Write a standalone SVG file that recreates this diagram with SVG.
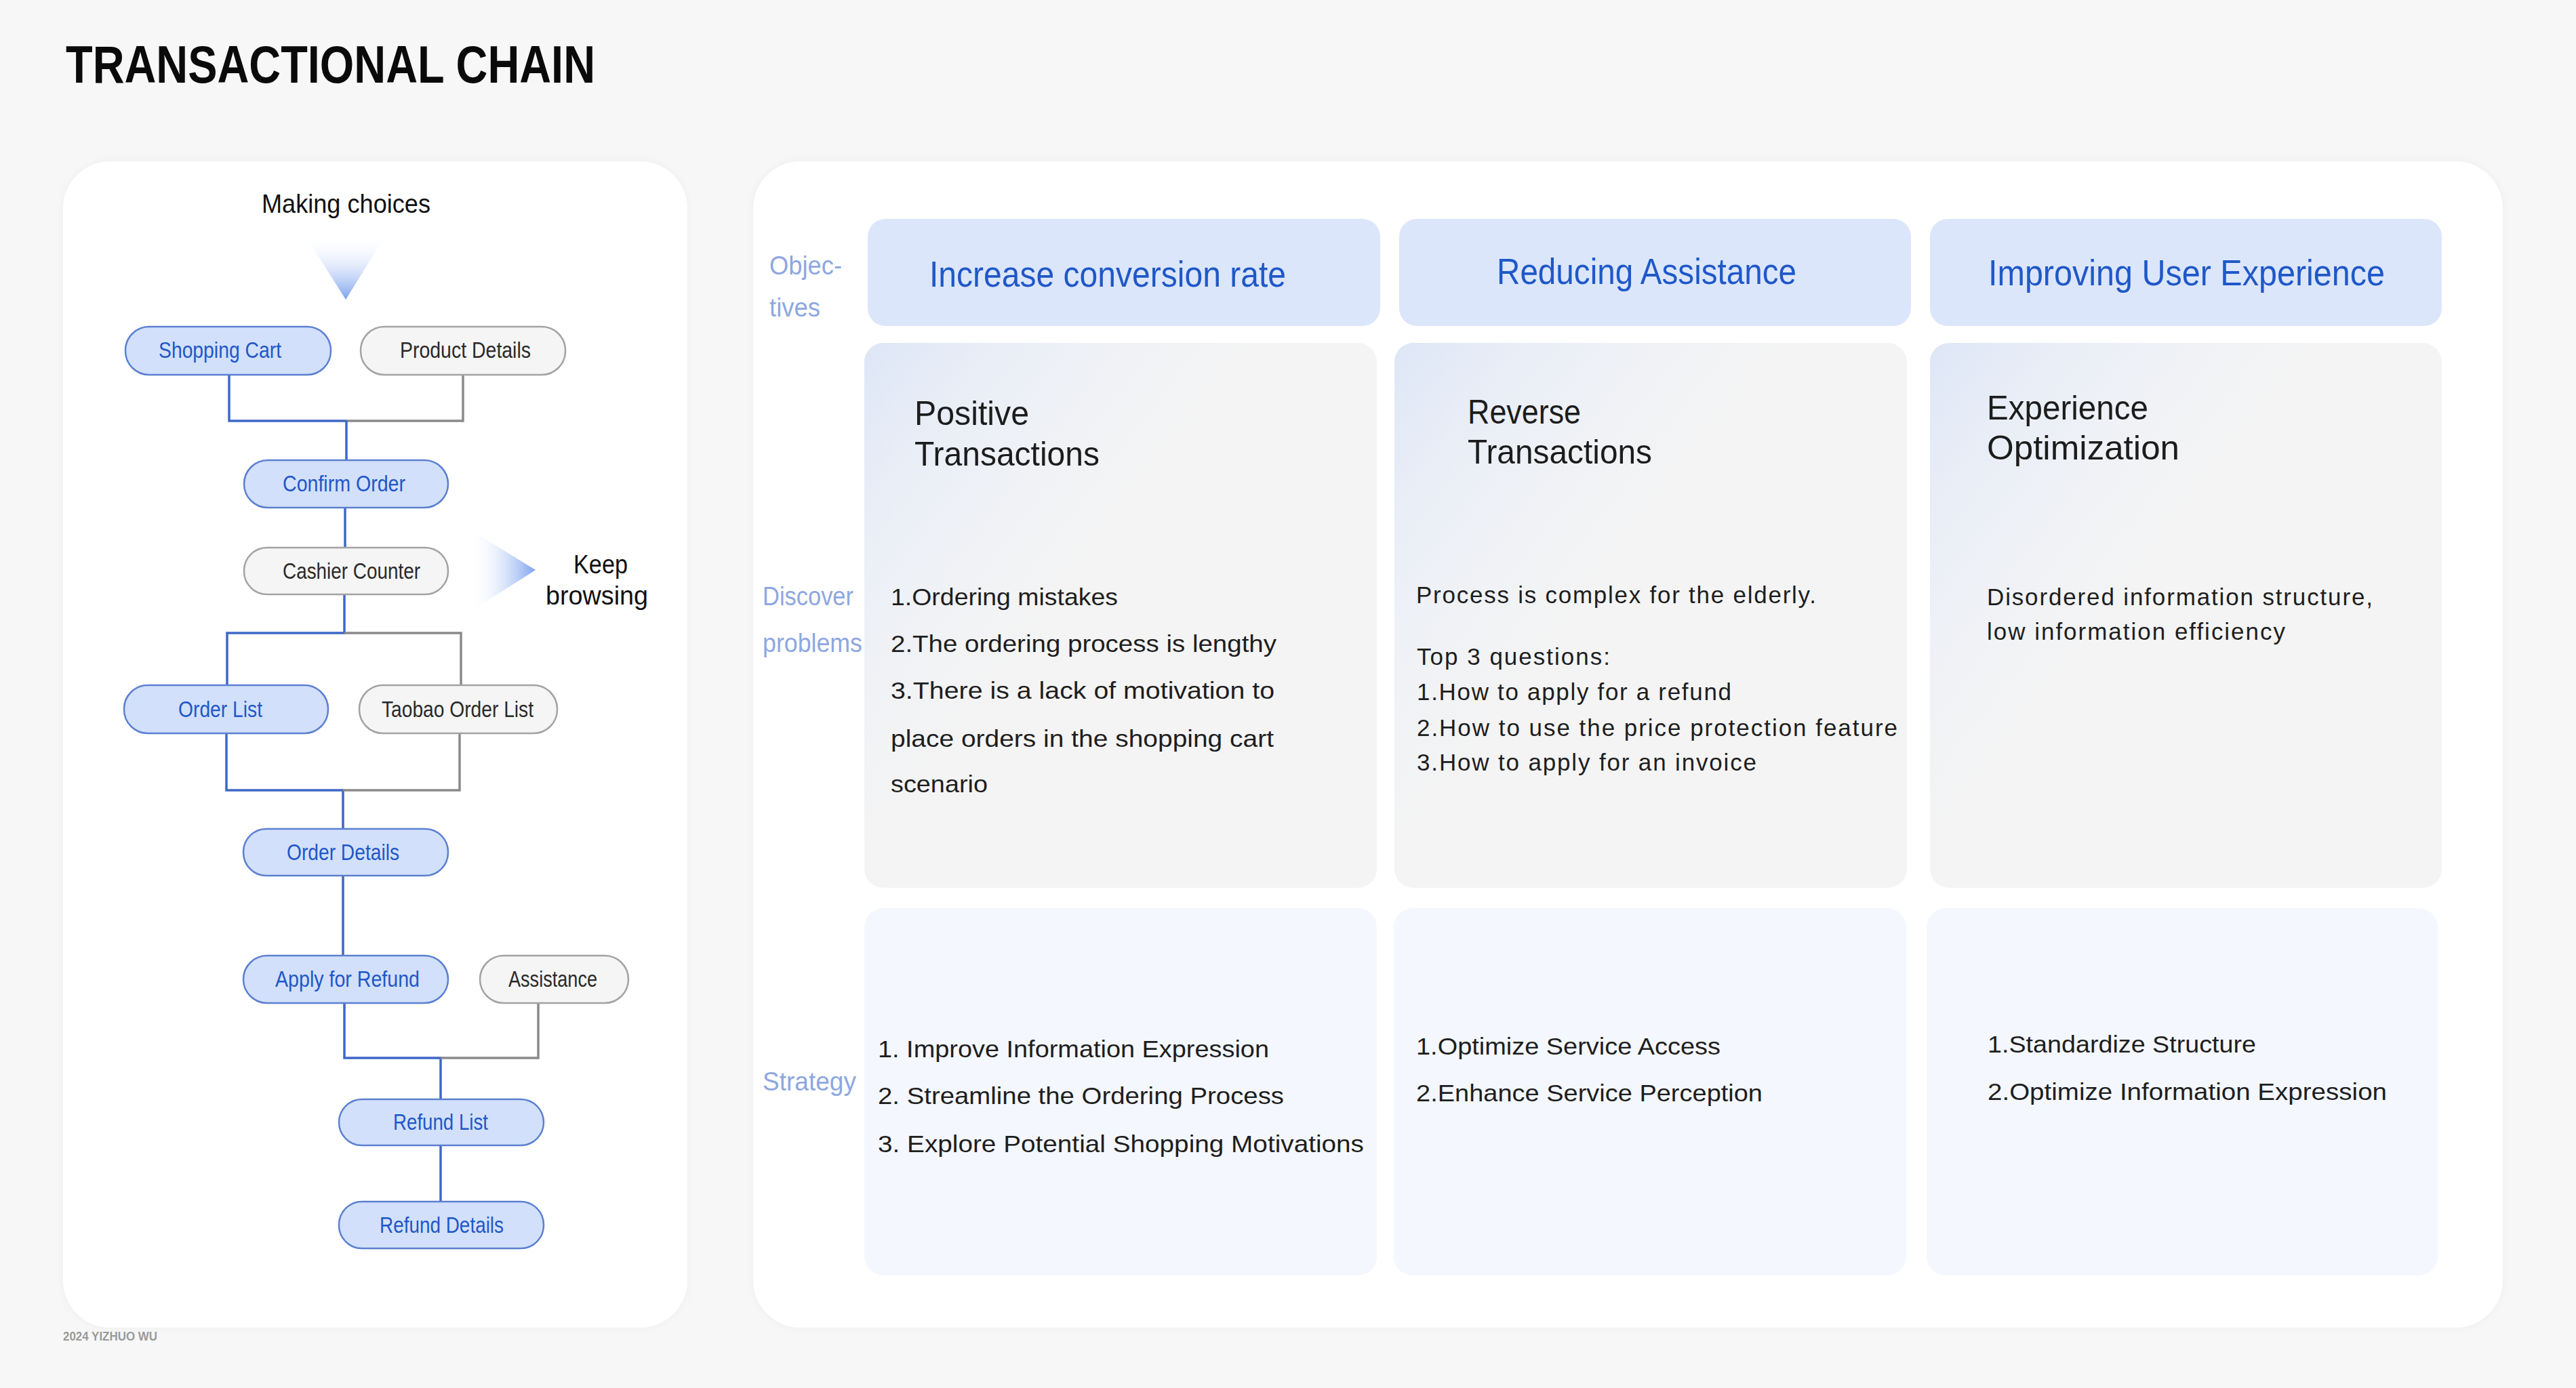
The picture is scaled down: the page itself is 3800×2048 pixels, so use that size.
<svg xmlns="http://www.w3.org/2000/svg" width="3800" height="2048" viewBox="0 0 3800 2048">
<style>
  text { font-family: "Liberation Sans", Arial, sans-serif; }
  .title { font-size: 77px; font-weight: bold; fill: #0a0a0a; }
  .lbl { font-size: 39px; fill: #111; }
  .nb rect { fill: #d2e0fb; stroke: #5c80d0; stroke-width: 2.5; }
  .nb text { font-size: 34px; fill: #2157c7; }
  .ng rect { fill: #f5f5f5; stroke: #a3a3a3; stroke-width: 2.5; }
  .ng text { font-size: 34px; fill: #2a2a2a; }
  .cb { fill: none; stroke: #3f67c6; stroke-width: 3.5; }
  .cg { fill: none; stroke: #8a8a8a; stroke-width: 3.5; }
  .row { font-size: 38px; fill: #8ea7df; }
  .hd rect { fill: #dce6fb; }
  .hd text { font-size: 54px; fill: #1f58c8; }
  .pb rect.base { fill: #f4f4f4; }
  .st rect { fill: #f4f7fd; }
  .h2 { font-size: 50px; fill: #1c1c1c; }
  .body { font-size: 35px; fill: #1e1e1e; }
  .foot { font-size: 19px; fill: #9a9a9a; font-weight: bold; }
</style>
<defs>
  <linearGradient id="triDown" x1="0" y1="0" x2="0" y2="1">
    <stop offset="0" stop-color="#ffffff" stop-opacity="0"/>
    <stop offset="1" stop-color="#7ca2ee"/>
  </linearGradient>
  <linearGradient id="triRight" x1="0" y1="0" x2="1" y2="0">
    <stop offset="0" stop-color="#ffffff" stop-opacity="0"/>
    <stop offset="1" stop-color="#7ca2ee"/>
  </linearGradient>
  <linearGradient id="sky" x1="0" y1="0" x2="0.55" y2="0.45">
    <stop offset="0" stop-color="#dbe5f7" stop-opacity="0.9"/>
    <stop offset="0.5" stop-color="#e9eef8" stop-opacity="0.5"/>
    <stop offset="1" stop-color="#f4f4f4" stop-opacity="0"/>
  </linearGradient>
  <filter id="sh" x="-5%" y="-5%" width="110%" height="110%">
    <feDropShadow dx="0" dy="0" stdDeviation="6" flood-color="#000" flood-opacity="0.04"/>
  </filter>
</defs>

<rect x="0" y="0" width="3800" height="2048" fill="#f7f7f7"/>

<text class="title" x="97" y="122" textLength="781" lengthAdjust="spacingAndGlyphs">TRANSACTIONAL CHAIN</text>

<!-- Panels -->
<rect id="leftPanel" x="93" y="238" width="921" height="1721" rx="70" fill="#ffffff" filter="url(#sh)"/>
<rect id="rightPanel" x="1111" y="238" width="2581" height="1721" rx="70" fill="#ffffff" filter="url(#sh)"/>

<!-- Flow labels -->
<text class="lbl" x="386" y="314" textLength="249" lengthAdjust="spacingAndGlyphs">Making choices</text>
<polygon points="450,347 569,347 510,442" fill="url(#triDown)"/>
<polygon points="693,781 790,841 693,903" fill="url(#triRight)"/>
<text class="lbl" x="846" y="846" textLength="80" lengthAdjust="spacingAndGlyphs">Keep</text>
<text class="lbl" x="805" y="892" textLength="151" lengthAdjust="spacingAndGlyphs">browsing</text>

<!-- Connectors -->
<g id="connectors">
  <path class="cb" d="M338,553 V621 H511"/>
  <path class="cg" d="M683,553 V621 H511"/>
  <path class="cb" d="M511,621 V679"/>
  <path class="cb" d="M509,749 V808"/>
  <path class="cb" d="M508,877 V934 H335 V1011"/>
  <path class="cg" d="M508,934 H680 V1011"/>
  <path class="cb" d="M334,1082 V1166 H506 V1223"/>
  <path class="cg" d="M678,1082 V1166 H506"/>
  <path class="cb" d="M506,1292 V1410"/>
  <path class="cb" d="M508,1480 V1561 H650 V1622"/>
  <path class="cg" d="M794,1480 V1561 H650"/>
  <path class="cb" d="M650,1690 V1773"/>
</g>

<!-- Nodes -->
<g id="n-shopping-cart" class="nb"><rect x="185" y="482" width="303" height="71" rx="35"/><text x="234" y="528" textLength="181" lengthAdjust="spacingAndGlyphs">Shopping Cart</text></g>
<g id="n-product-details" class="ng"><rect x="532" y="482" width="302" height="71" rx="35"/><text x="590" y="528" textLength="193" lengthAdjust="spacingAndGlyphs">Product Details</text></g>
<g id="n-confirm-order" class="nb"><rect x="360" y="679" width="301" height="70" rx="35"/><text x="417" y="725" textLength="181" lengthAdjust="spacingAndGlyphs">Confirm Order</text></g>
<g id="n-cashier-counter" class="ng"><rect x="360" y="808" width="301" height="69" rx="34"/><text x="417" y="854" textLength="203" lengthAdjust="spacingAndGlyphs">Cashier Counter</text></g>
<g id="n-order-list" class="nb"><rect x="183" y="1011" width="301" height="71" rx="35"/><text x="263" y="1058" textLength="124" lengthAdjust="spacingAndGlyphs">Order List</text></g>
<g id="n-taobao-order-list" class="ng"><rect x="530" y="1011" width="292" height="71" rx="35"/><text x="563" y="1058" textLength="224" lengthAdjust="spacingAndGlyphs">Taobao Order List</text></g>
<g id="n-order-details" class="nb"><rect x="359" y="1223" width="302" height="69" rx="34"/><text x="423" y="1269" textLength="166" lengthAdjust="spacingAndGlyphs">Order Details</text></g>
<g id="n-apply-refund" class="nb"><rect x="359" y="1410" width="302" height="70" rx="35"/><text x="406" y="1456" textLength="213" lengthAdjust="spacingAndGlyphs">Apply for Refund</text></g>
<g id="n-assistance" class="ng"><rect x="708" y="1410" width="219" height="70" rx="35"/><text x="750" y="1456" textLength="131" lengthAdjust="spacingAndGlyphs">Assistance</text></g>
<g id="n-refund-list" class="nb"><rect x="500" y="1622" width="302" height="68" rx="34"/><text x="580" y="1667" textLength="140" lengthAdjust="spacingAndGlyphs">Refund List</text></g>
<g id="n-refund-details" class="nb"><rect x="500" y="1773" width="302" height="69" rx="34"/><text x="560" y="1819" textLength="183" lengthAdjust="spacingAndGlyphs">Refund Details</text></g>

<text class="foot" x="93" y="1978" textLength="139" lengthAdjust="spacingAndGlyphs">2024 YIZHUO WU</text>

<!-- Row labels -->
<g id="row-labels">
  <text class="row" x="1135" y="405" textLength="107" lengthAdjust="spacingAndGlyphs">Objec-</text>
  <text class="row" x="1135" y="467" textLength="75" lengthAdjust="spacingAndGlyphs">tives</text>
  <text class="row" x="1125" y="893" textLength="134" lengthAdjust="spacingAndGlyphs">Discover</text>
  <text class="row" x="1125" y="962" textLength="147" lengthAdjust="spacingAndGlyphs">problems</text>
  <text class="row" x="1125" y="1609" textLength="138" lengthAdjust="spacingAndGlyphs">Strategy</text>
</g>

<!-- Objective headers -->
<g id="obj-1" class="hd"><rect x="1280" y="323" width="756" height="158" rx="26"/><text x="1371" y="423" textLength="526" lengthAdjust="spacingAndGlyphs">Increase conversion rate</text></g>
<g id="obj-2" class="hd"><rect x="2064" y="323" width="755" height="158" rx="26"/><text x="2208" y="419" textLength="442" lengthAdjust="spacingAndGlyphs">Reducing Assistance</text></g>
<g id="obj-3" class="hd"><rect x="2847" y="323" width="755" height="158" rx="26"/><text x="2933" y="421" textLength="585" lengthAdjust="spacingAndGlyphs">Improving User Experience</text></g>

<!-- Problems row -->
<g id="prob-1" class="pb">
  <rect class="base" x="1275" y="506" width="756" height="804" rx="28"/>
  <rect x="1275" y="506" width="756" height="804" rx="28" fill="url(#sky)"/>
  <text class="h2" x="1349" y="627" textLength="169" lengthAdjust="spacingAndGlyphs">Positive</text>
  <text class="h2" x="1349" y="687" textLength="273" lengthAdjust="spacingAndGlyphs">Transactions</text>
  <text class="body" x="1314" y="893" textLength="335" lengthAdjust="spacingAndGlyphs">1.Ordering mistakes</text>
  <text class="body" x="1314" y="962" textLength="569" lengthAdjust="spacingAndGlyphs">2.The ordering process is lengthy</text>
  <text class="body" x="1314" y="1031" textLength="566" lengthAdjust="spacingAndGlyphs">3.There is a lack of motivation to</text>
  <text class="body" x="1314" y="1102" textLength="565" lengthAdjust="spacingAndGlyphs">place orders in the shopping cart</text>
  <text class="body" x="1314" y="1169" textLength="143" lengthAdjust="spacingAndGlyphs">scenario</text>
</g>
<g id="prob-2" class="pb">
  <rect class="base" x="2057" y="506" width="756" height="804" rx="28"/>
  <rect x="2057" y="506" width="756" height="804" rx="28" fill="url(#sky)"/>
  <text class="h2" x="2165" y="625" textLength="167" lengthAdjust="spacingAndGlyphs">Reverse</text>
  <text class="h2" x="2165" y="684" textLength="272" lengthAdjust="spacingAndGlyphs">Transactions</text>
  <text class="body" x="2089" y="890" textLength="590" lengthAdjust="spacing">Process is complex for the elderly.</text>
  <text class="body" x="2090" y="981" textLength="285" lengthAdjust="spacing">Top 3 questions:</text>
  <text class="body" x="2090" y="1033" textLength="464" lengthAdjust="spacing">1.How to apply for a refund</text>
  <text class="body" x="2090" y="1086" textLength="709" lengthAdjust="spacing">2.How to use the price protection feature</text>
  <text class="body" x="2090" y="1137" textLength="501" lengthAdjust="spacing">3.How to apply for an invoice</text>
</g>
<g id="prob-3" class="pb">
  <rect class="base" x="2847" y="506" width="755" height="804" rx="28"/>
  <rect x="2847" y="506" width="755" height="804" rx="28" fill="url(#sky)"/>
  <text class="h2" x="2931" y="619" textLength="238" lengthAdjust="spacingAndGlyphs">Experience</text>
  <text class="h2" x="2931" y="678" textLength="284" lengthAdjust="spacingAndGlyphs">Optimization</text>
  <text class="body" x="2931" y="893" textLength="569" lengthAdjust="spacing">Disordered information structure,</text>
  <text class="body" x="2931" y="944" textLength="440" lengthAdjust="spacing">low information efficiency</text>
</g>

<!-- Strategy row -->
<g id="strat-1" class="st">
  <rect x="1275" y="1340" width="756" height="542" rx="28"/>
  <text class="body" x="1295" y="1560" textLength="577" lengthAdjust="spacingAndGlyphs">1. Improve Information Expression</text>
  <text class="body" x="1295" y="1629" textLength="599" lengthAdjust="spacingAndGlyphs">2. Streamline the Ordering Process</text>
  <text class="body" x="1295" y="1700" textLength="717" lengthAdjust="spacingAndGlyphs">3. Explore Potential Shopping Motivations</text>
</g>
<g id="strat-2" class="st">
  <rect x="2056" y="1340" width="756" height="542" rx="28"/>
  <text class="body" x="2089" y="1556" textLength="449" lengthAdjust="spacingAndGlyphs">1.Optimize Service Access</text>
  <text class="body" x="2089" y="1625" textLength="511" lengthAdjust="spacingAndGlyphs">2.Enhance Service Perception</text>
</g>
<g id="strat-3" class="st">
  <rect x="2842" y="1340" width="754" height="542" rx="28"/>
  <text class="body" x="2932" y="1553" textLength="396" lengthAdjust="spacingAndGlyphs">1.Standardize Structure</text>
  <text class="body" x="2932" y="1623" textLength="589" lengthAdjust="spacingAndGlyphs">2.Optimize Information Expression</text>
</g>
</svg>
